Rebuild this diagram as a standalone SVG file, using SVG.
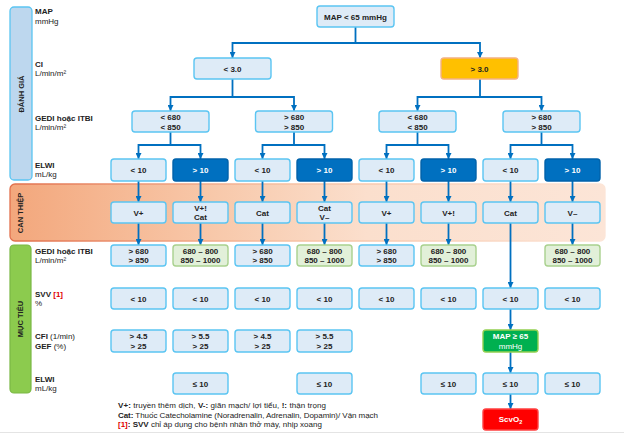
<svg xmlns="http://www.w3.org/2000/svg" width="624" height="433" viewBox="0 0 624 433">
<style>
text{font-family:"Liberation Sans",Arial,sans-serif;font-size:8px;fill:#222}
.b{font-weight:bold}
.c{text-anchor:middle;font-weight:bold}
.w{fill:#fff}
.n{fill:#DEEBF7;stroke:#5BC5F2;stroke-width:1.4}
.d{fill:#0070C0;stroke:#0062AA;stroke-width:1.4}
.g{fill:#E2F0D9;stroke:#A9D18E;stroke-width:1.4}
.cn{fill:none;stroke:#0070C0;stroke-width:1.8;marker-end:url(#ar)}
.vl{font-size:7.5px;font-weight:bold;text-anchor:middle}
</style>
<defs>
<marker id="ar" markerUnits="userSpaceOnUse" markerWidth="7" markerHeight="6" refX="6" refY="3" orient="auto">
<path d="M0,0 L6,3 L0,6 z" fill="#0070C0"/>
</marker>
<linearGradient id="band" x1="0" y1="0" x2="1" y2="0">
<stop offset="0" stop-color="#F3A77C"/>
<stop offset="0.35" stop-color="#F8C9AB"/>
<stop offset="0.6" stop-color="#FBDFCD"/>
<stop offset="1" stop-color="#FCE5D7"/>
</linearGradient>
<linearGradient id="bandS" x1="0" y1="0" x2="1" y2="0">
<stop offset="0" stop-color="#E2704C"/>
<stop offset="0.45" stop-color="#F6BFA0"/>
<stop offset="1" stop-color="#FCE5D7"/>
</linearGradient>
</defs>
<rect width="624" height="433" fill="#fff"/>
<line x1="0" y1="432.5" x2="624" y2="432.5" stroke="#E4E4E4" stroke-width="1"/>

<g id="band-intervention">
<rect x="10" y="184" width="595" height="57" rx="5" fill="url(#band)" stroke="url(#bandS)" stroke-width="1.3"/>
<text class="vl" transform="translate(23,213) rotate(-90)">CAN THIỆP</text>
</g>
<g id="bar-assess">
<rect x="10" y="7" width="22" height="173" rx="4" fill="#BDD7EE" stroke="#5BC5F2" stroke-width="1.3"/>
<text class="vl" transform="translate(23.5,94) rotate(-90)">ĐÁNH GIÁ</text>
</g>
<g id="bar-target">
<rect x="10" y="245" width="21" height="148" rx="4" fill="#8CCB4E" stroke="#7AB845" stroke-width="1.2"/>
<text class="vl" transform="translate(23,319) rotate(-90)">MỤC TIÊU</text>
</g>

<g id="labels">
<text x="35" y="14" class="b">MAP</text><text x="35" y="23.5">mmHg</text>
<text x="35" y="67" class="b">CI</text><text x="35" y="76">L/min/m²</text>
<text x="35" y="121" class="b">GEDI hoặc ITBI</text><text x="35" y="130">L/min/m²</text>
<text x="35" y="168" class="b">ELWI</text><text x="35" y="177">mL/kg</text>
<text x="35" y="254" class="b">GEDI hoặc ITBI</text><text x="35" y="263">L/min/m²</text>
<text x="35" y="297" class="b">SVV <tspan fill="#E00000">[1]</tspan></text><text x="35" y="306">%</text>
<text x="35" y="339"><tspan class="b">CFI</tspan> (1/min)</text><text x="35" y="348.5"><tspan class="b">GEF</tspan> (%)</text>
<text x="35" y="382" class="b">ELWI</text><text x="35" y="391">mL/kg</text>
</g>

<g id="connectors">
<path class="cn" d="M355.5 27V43H232.5V58"/>
<path class="cn" d="M355.5 43H480V58"/>
<path class="cn" d="M232.5 79V97H170.5V111"/>
<path class="cn" d="M232.5 97H294V111"/>
<path class="cn" d="M480 79V97H417.5V111"/>
<path class="cn" d="M480 97H541.5V111"/>
<path class="cn" d="M170.5 132V145H138.5V159"/>
<path class="cn" d="M170.5 145H200.5V159"/>
<path class="cn" d="M294 132V145H262.5V159"/>
<path class="cn" d="M294 145H324.5V159"/>
<path class="cn" d="M417.5 132V145H386.5V159"/>
<path class="cn" d="M417.5 145H448.5V159"/>
<path class="cn" d="M541.5 132V145H510.5V159"/>
<path class="cn" d="M541.5 145H572.5V159"/>
<path class="cn" d="M138.5 181V202"/>
<path class="cn" d="M200.5 181V202"/>
<path class="cn" d="M262.5 181V202"/>
<path class="cn" d="M324.5 181V202"/>
<path class="cn" d="M386.5 181V202"/>
<path class="cn" d="M448.5 181V202"/>
<path class="cn" d="M510.5 181V202"/>
<path class="cn" d="M572.5 181V202"/>
<path class="cn" d="M138.5 223V245"/>
<path class="cn" d="M200.5 223V245"/>
<path class="cn" d="M262.5 223V245"/>
<path class="cn" d="M324.5 223V245"/>
<path class="cn" d="M386.5 223V245"/>
<path class="cn" d="M448.5 223V245"/>
<path class="cn" d="M572.5 223V245"/>
<path class="cn" d="M510.5 223V288"/>
<path class="cn" d="M510.5 309V330"/>
<path class="cn" d="M510.5 352V373"/>
<path class="cn" d="M510.5 394V409"/>
</g>

<g id="n-map"><rect class="n" x="317" y="6" width="77" height="21" rx="3"/><text class="c" x="355.5" y="19.5">MAP &lt; 65 mmHg</text></g>
<g id="n-ci-low"><rect class="n" x="194" y="58" width="77" height="21" rx="3"/><text class="c" x="232.5" y="71.5">&lt; 3.0</text></g>
<g id="n-ci-high"><rect x="441" y="58" width="77" height="21" rx="3" fill="#FFC000" stroke="#F4B183" stroke-width="1.4"/><text class="c" x="479.5" y="71.5">&gt; 3.0</text></g>

<g id="n-gedi-1"><rect class="n" x="132" y="111" width="77" height="21" rx="3"/><text class="c" x="170.5" y="120">&lt; 680</text><text class="c" x="170.5" y="129.5">&lt; 850</text></g>
<g id="n-gedi-2"><rect class="n" x="255.5" y="111" width="77" height="21" rx="3"/><text class="c" x="294" y="120">&gt; 680</text><text class="c" x="294" y="129.5">&gt; 850</text></g>
<g id="n-gedi-3"><rect class="n" x="379" y="111" width="77" height="21" rx="3"/><text class="c" x="417.5" y="120">&lt; 680</text><text class="c" x="417.5" y="129.5">&lt; 850</text></g>
<g id="n-gedi-4"><rect class="n" x="503" y="111" width="77" height="21" rx="3"/><text class="c" x="541.5" y="120">&gt; 680</text><text class="c" x="541.5" y="129.5">&gt; 850</text></g>

<g id="n-elwi-1"><rect class="n" x="111" y="159" width="55" height="22" rx="3"/><text class="c" x="138.5" y="173">&lt; 10</text></g>
<g id="n-elwi-2"><rect class="d" x="173" y="159" width="55" height="22" rx="3"/><text class="c w" x="200.5" y="173">&gt; 10</text></g>
<g id="n-elwi-3"><rect class="n" x="235" y="159" width="55" height="22" rx="3"/><text class="c" x="262.5" y="173">&lt; 10</text></g>
<g id="n-elwi-4"><rect class="d" x="297" y="159" width="55" height="22" rx="3"/><text class="c w" x="324.5" y="173">&gt; 10</text></g>
<g id="n-elwi-5"><rect class="n" x="359" y="159" width="55" height="22" rx="3"/><text class="c" x="386.5" y="173">&lt; 10</text></g>
<g id="n-elwi-6"><rect class="d" x="421" y="159" width="55" height="22" rx="3"/><text class="c w" x="448.5" y="173">&gt; 10</text></g>
<g id="n-elwi-7"><rect class="n" x="483" y="159" width="55" height="22" rx="3"/><text class="c" x="510.5" y="173">&lt; 10</text></g>
<g id="n-elwi-8"><rect class="d" x="545" y="159" width="55" height="22" rx="3"/><text class="c w" x="572.5" y="173">&gt; 10</text></g>

<g id="n-int-1"><rect class="n" x="111" y="202" width="55" height="21" rx="3"/><text class="c" x="138.5" y="215.5">V+</text></g>
<g id="n-int-2"><rect class="n" x="173" y="202" width="55" height="21" rx="3"/><text class="c" x="200.5" y="210.5">V+!</text><text class="c" x="200.5" y="220">Cat</text></g>
<g id="n-int-3"><rect class="n" x="235" y="202" width="55" height="21" rx="3"/><text class="c" x="262.5" y="215.5">Cat</text></g>
<g id="n-int-4"><rect class="n" x="297" y="202" width="55" height="21" rx="3"/><text class="c" x="324.5" y="210.5">Cat</text><text class="c" x="324.5" y="220">V–</text></g>
<g id="n-int-5"><rect class="n" x="359" y="202" width="55" height="21" rx="3"/><text class="c" x="386.5" y="215.5">V+</text></g>
<g id="n-int-6"><rect class="n" x="421" y="202" width="55" height="21" rx="3"/><text class="c" x="448.5" y="215.5">V+!</text></g>
<g id="n-int-7"><rect class="n" x="483" y="202" width="55" height="21" rx="3"/><text class="c" x="510.5" y="215.5">Cat</text></g>
<g id="n-int-8"><rect class="n" x="545" y="202" width="55" height="21" rx="3"/><text class="c" x="572.5" y="215.5">V–</text></g>

<g id="n-tg-1"><rect class="n" x="111" y="245" width="55" height="21" rx="3"/><text class="c" x="138.5" y="253.5">&gt; 680</text><text class="c" x="138.5" y="263">&gt; 850</text></g>
<g id="n-tg-2"><rect class="g" x="173" y="245" width="55" height="21" rx="3"/><text class="c" x="200.5" y="253.5">680 – 800</text><text class="c" x="200.5" y="263">850 – 1000</text></g>
<g id="n-tg-3"><rect class="n" x="235" y="245" width="55" height="21" rx="3"/><text class="c" x="262.5" y="253.5">&gt; 680</text><text class="c" x="262.5" y="263">&gt; 850</text></g>
<g id="n-tg-4"><rect class="g" x="297" y="245" width="55" height="21" rx="3"/><text class="c" x="324.5" y="253.5">680 – 800</text><text class="c" x="324.5" y="263">850 – 1000</text></g>
<g id="n-tg-5"><rect class="n" x="359" y="245" width="55" height="21" rx="3"/><text class="c" x="386.5" y="253.5">&gt; 680</text><text class="c" x="386.5" y="263">&gt; 850</text></g>
<g id="n-tg-6"><rect class="g" x="421" y="245" width="55" height="21" rx="3"/><text class="c" x="448.5" y="253.5">680 – 800</text><text class="c" x="448.5" y="263">850 – 1000</text></g>
<g id="n-tg-8"><rect class="g" x="545" y="245" width="55" height="21" rx="3"/><text class="c" x="572.5" y="253.5">680 – 800</text><text class="c" x="572.5" y="263">850 – 1000</text></g>

<g id="n-svv-1"><rect class="n" x="111" y="288" width="55" height="21" rx="3"/><text class="c" x="138.5" y="301.5">&lt; 10</text></g>
<g id="n-svv-2"><rect class="n" x="173" y="288" width="55" height="21" rx="3"/><text class="c" x="200.5" y="301.5">&lt; 10</text></g>
<g id="n-svv-3"><rect class="n" x="235" y="288" width="55" height="21" rx="3"/><text class="c" x="262.5" y="301.5">&lt; 10</text></g>
<g id="n-svv-4"><rect class="n" x="297" y="288" width="55" height="21" rx="3"/><text class="c" x="324.5" y="301.5">&lt; 10</text></g>
<g id="n-svv-5"><rect class="n" x="359" y="288" width="55" height="21" rx="3"/><text class="c" x="386.5" y="301.5">&lt; 10</text></g>
<g id="n-svv-6"><rect class="n" x="421" y="288" width="55" height="21" rx="3"/><text class="c" x="448.5" y="301.5">&lt; 10</text></g>
<g id="n-svv-7"><rect class="n" x="483" y="288" width="55" height="21" rx="3"/><text class="c" x="510.5" y="301.5">&lt; 10</text></g>
<g id="n-svv-8"><rect class="n" x="545" y="288" width="55" height="21" rx="3"/><text class="c" x="572.5" y="301.5">&lt; 10</text></g>

<g id="n-cfi-1"><rect class="n" x="111" y="330" width="55" height="22" rx="3"/><text class="c" x="138.5" y="339">&gt; 4.5</text><text class="c" x="138.5" y="349">&gt; 25</text></g>
<g id="n-cfi-2"><rect class="n" x="173" y="330" width="55" height="22" rx="3"/><text class="c" x="200.5" y="339">&gt; 5.5</text><text class="c" x="200.5" y="349">&gt; 25</text></g>
<g id="n-cfi-3"><rect class="n" x="235" y="330" width="55" height="22" rx="3"/><text class="c" x="262.5" y="339">&gt; 4.5</text><text class="c" x="262.5" y="349">&gt; 25</text></g>
<g id="n-cfi-4"><rect class="n" x="297" y="330" width="55" height="22" rx="3"/><text class="c" x="324.5" y="339">&gt; 5.5</text><text class="c" x="324.5" y="349">&gt; 25</text></g>
<g id="n-map-goal"><rect x="483" y="330" width="55" height="22" rx="3" fill="#00B050" stroke="#92D050" stroke-width="1.4"/><text class="c w" x="510.5" y="339">MAP ≥ 65</text><text class="w" x="510.5" y="349" text-anchor="middle">mmHg</text></g>

<g id="n-el-2"><rect class="n" x="173" y="373" width="55" height="21" rx="3"/><text class="c" x="200.5" y="386.5">≤ 10</text></g>
<g id="n-el-4"><rect class="n" x="297" y="373" width="55" height="21" rx="3"/><text class="c" x="324.5" y="386.5">≤ 10</text></g>
<g id="n-el-6"><rect class="n" x="421" y="373" width="55" height="21" rx="3"/><text class="c" x="448.5" y="386.5">≤ 10</text></g>
<g id="n-el-7"><rect class="n" x="483" y="373" width="55" height="21" rx="3"/><text class="c" x="510.5" y="386.5">≤ 10</text></g>
<g id="n-el-8"><rect class="n" x="545" y="373" width="55" height="21" rx="3"/><text class="c" x="572.5" y="386.5">≤ 10</text></g>

<g id="n-scvo2"><rect x="483" y="409" width="55" height="21" rx="3" fill="#FF0000" stroke="#FF4040" stroke-width="1.4"/><text class="c w" x="510.5" y="422">ScvO<tspan font-size="5.5" dy="2">2</tspan></text></g>

<g id="legend">
<text x="118" y="407.5" textLength="208" lengthAdjust="spacing"><tspan class="b">V+:</tspan> truyền thêm dịch, <tspan class="b">V-:</tspan> giãn mạch/ lợi tiểu, <tspan class="b">!:</tspan> thận trọng</text>
<text x="118" y="417.5" textLength="260" lengthAdjust="spacing"><tspan class="b">Cat:</tspan> Thuốc Catecholamine (Noradrenalin, Adrenalin, Dopamin)/ Vận mạch</text>
<text x="118" y="427"><tspan class="b" fill="#E00000">[1]</tspan><tspan class="b">: SVV</tspan> chỉ áp dụng cho bệnh nhân thở máy, nhịp xoang</text>
</g>
</svg>
